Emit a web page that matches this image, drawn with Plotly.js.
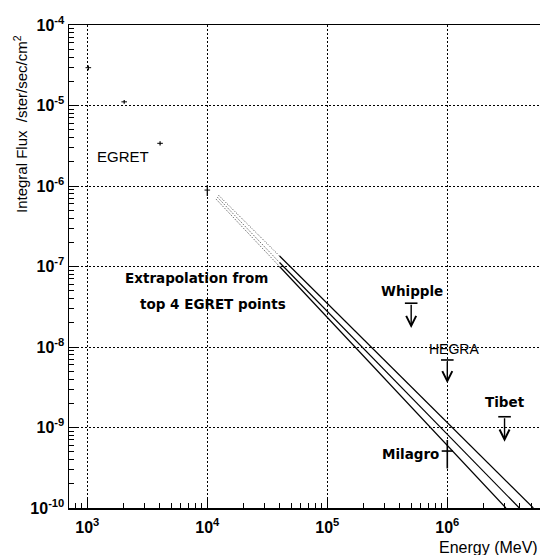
<!DOCTYPE html>
<html><head><meta charset="utf-8">
<script src="https://cdn.plot.ly/plotly-3.0.1.min.js"></script>
<style>html,body{margin:0;padding:0;background:#fff;}</style>
</head><body><div id="chart" style="width:541px;height:555px;"></div>
<script>
// EGRET measurements (MeV, /ster/sec/cm^2)
const egretE = [1020, 2030, 4040, 10000];
const egretFlux = [2.95e-5, 1.11e-5, 3.39e-6, 8.9e-7];
const egretErrUp = [2.0e-6, 6e-7, 2.0e-7, 1.4e-7];
const egretErrDown = [2.0e-6, 6e-7, 2.0e-7, 1.4e-7];

// Milagro point
const milagroE = [1.0e6];
const milagroFlux = [5.1e-10];
const milagroErrUp = [1.9e-10];
const milagroErrDown = [2.0e-10];

// Upper limits
const ulNames = ['Whipple', 'HEGRA', 'Tibet'];
const ulE = [5.0e5, 1.0e6, 3.0e6];
const ulFlux = [3.5e-8, 6.9e-9, 1.36e-9];
const ulArrowTip = [1.72e-8, 3.54e-9, 6.67e-10];

// Extrapolation lines: dotted start, then solid
const extrapDottedE = [[1.18e4, 4.0e4], [1.21e4, 4.0e4], [1.235e4, 4.0e4]];
const extrapDottedFlux = [[6.90e-7, 1.00e-7], [7.30e-7, 1.12e-7], [7.73e-7, 1.35e-7]];
const extrapSolidE = [[4.0e4, 3.08e6], [4.0e4, 3.98e6], [4.0e4, 5.21e6]];
const extrapSolidFlux = [[1.00e-7, 1.0e-10], [1.12e-7, 1.0e-10], [1.35e-7, 1.0e-10]];

// Tick labels
const xTickVals = [1e3, 1e4, 1e5, 1e6];
const xTickText = ['10<sup>3</sup>', '10<sup>4</sup>', '10<sup>5</sup>', '10<sup>6</sup>'];
const yTickVals = [1e-10, 1e-9, 1e-8, 1e-7, 1e-6, 1e-5, 1e-4];
const yTickText = ['10<sup>-10</sup>', '10<sup>-9</sup>', '10<sup>-8</sup>', '10<sup>-7</sup>', '10<sup>-6</sup>', '10<sup>-5</sup>', '10<sup>-4</sup>'];

function minorVals(lo, hi) {
  const out = [];
  for (let n = lo; n <= hi; n++) for (let k = 2; k <= 9; k++) out.push(k * Math.pow(10, n));
  return out;
}

const traces = [];
for (let i = 0; i < extrapDottedE.length; i++) {
  traces.push({x: extrapDottedE[i], y: extrapDottedFlux[i], mode: 'lines', type: 'scatter',
    line: {color: '#444', width: 1, dash: '1px,1.5px'}, hoverinfo: 'skip', showlegend: false});
  traces.push({x: extrapSolidE[i], y: extrapSolidFlux[i], mode: 'lines', type: 'scatter',
    line: {color: '#000', width: 1.2}, hoverinfo: 'skip', showlegend: false});
}
traces.push({x: egretE, y: egretFlux, mode: 'markers', type: 'scatter', showlegend: false,
  marker: {symbol: 'line-ew-open', size: 4, color: '#000', line: {color: '#000', width: 1}},
  error_y: {type: 'data', symmetric: false, array: egretErrUp, arrayminus: egretErrDown, width: 0, thickness: 1.2, color: '#000'}});
traces.push({x: milagroE, y: milagroFlux, mode: 'markers', type: 'scatter', showlegend: false,
  marker: {symbol: 'line-ew-open', size: 8, color: '#000', line: {color: '#000', width: 1.6}},
  error_y: {type: 'data', symmetric: false, array: milagroErrUp, arrayminus: milagroErrDown, width: 0, thickness: 1.6, color: '#000'}});
traces.push({x: ulE, y: ulFlux, mode: 'markers', type: 'scatter', showlegend: false,
  marker: {symbol: 'line-ew-open', size: 9, color: '#000', line: {color: '#000', width: 1.6}}});

const annotations = [];
for (let i = 0; i < ulE.length; i++) {
  annotations.push({x: Math.log10(ulE[i]), y: Math.log10(ulArrowTip[i]), xref: 'x', yref: 'y',
    ax: Math.log10(ulE[i]), ay: Math.log10(ulFlux[i]), axref: 'x', ayref: 'y',
    text: '', showarrow: true, arrowhead: 5, arrowsize: 1.4, arrowwidth: 1.4, arrowcolor: '#000', standoff: 0, startstandoff: 0});
}
const W = 471, H = 483, L = 69, B = 508;
function px(x) { return (x - L) / W; }
function py(y) { return (B - y) / H; }
const lblFont = {family: 'DejaVu Sans', size: 13.5, color: '#000', weight: 'bold'};
const helvFont = {family: 'Liberation Sans', size: 15, color: '#000'};
const labels = [
  {t: 'EGRET', x: 122.5, y: 157, f: helvFont},
  {t: 'Extrapolation from', x: 196.5, y: 278, f: lblFont},
  {t: 'top 4 EGRET points', x: 212.5, y: 304, f: lblFont},
  {t: 'Whipple', x: 411.5, y: 291, f: lblFont},
  {t: 'HEGRA', x: 453.5, y: 349, f: {family: 'Liberation Sans', size: 14, color: '#000'}},
  {t: 'Tibet', x: 505, y: 402, f: lblFont},
  {t: 'Milagro', x: 410, y: 454, f: lblFont}
];
labels.forEach(l => annotations.push({text: l.t, x: px(l.x), y: py(l.y), xref: 'paper', yref: 'paper',
  xanchor: 'center', yanchor: 'middle', showarrow: false, font: l.f}));
annotations.push({text: 'Integral Flux  /ster/sec/cm<sup>2</sup>', textangle: -90, x: px(20), y: py(124),
  xref: 'paper', yref: 'paper', xanchor: 'center', yanchor: 'middle', showarrow: false,
  font: {family: 'Liberation Sans', size: 15, color: '#000'}});
annotations.push({text: 'Energy (MeV)', x: px(540), y: py(547), xref: 'paper', yref: 'paper',
  xanchor: 'right', yanchor: 'middle', showarrow: false,
  font: {family: 'Liberation Sans', size: 16, color: '#000'}});

const tickFont = {family: 'Liberation Sans', size: 16, color: '#000', weight: 'bold'};
const layout = {
  width: 541, height: 555,
  margin: {l: 69, r: 1, t: 25, b: 47},
  paper_bgcolor: '#fff', plot_bgcolor: '#fff',
  showlegend: false,
  xaxis: {type: 'log', range: [2.8475, 6.7725], tickmode: 'array', tickvals: xTickVals, ticktext: xTickText,
    ticks: 'inside', ticklen: 9, tickwidth: 1, tickcolor: '#000', ticklabelstandoff: 4,
    showline: true, linecolor: '#000', linewidth: 1.5, mirror: true,
    showgrid: true, gridcolor: '#000', gridwidth: 1, griddash: '2px,2px',
    zeroline: false, tickfont: tickFont,
    minor: {tickmode: 'array', tickvals: minorVals(2, 6), ticks: 'inside', ticklen: 5, tickcolor: '#000', tickwidth: 1, showgrid: false}},
  yaxis: {type: 'log', range: [-10, -4], tickmode: 'array', tickvals: yTickVals, ticktext: yTickText,
    ticks: 'inside', ticklen: 9, tickwidth: 1, tickcolor: '#000',
    showline: true, linecolor: '#000', linewidth: 1.5,
    showgrid: true, gridcolor: '#000', gridwidth: 1, griddash: '2px,2px',
    zeroline: false, tickfont: tickFont,
    minor: {tickmode: 'array', tickvals: minorVals(-10, -5), ticks: 'inside', ticklen: 5, tickcolor: '#000', tickwidth: 1, showgrid: false}},
  annotations: annotations
};
Plotly.newPlot('chart', traces, layout, {displayModeBar: false, staticPlot: true});
</script></body></html>
